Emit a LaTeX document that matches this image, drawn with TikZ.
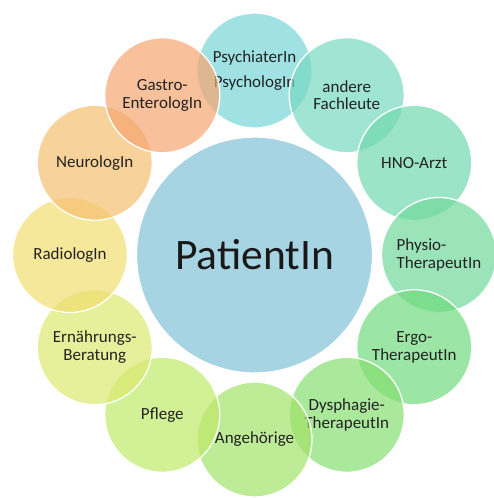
\documentclass[tikz,border=0pt]{standalone}
\usepackage{fontspec}
\setmainfont{Carlito}
\definecolor{ccenter}{RGB}{166,212,226}
\definecolor{cpsy}{RGB}{119,214,216}
\definecolor{cand}{RGB}{119,216,194}
\definecolor{chno}{RGB}{112,216,176}
\definecolor{cphy}{RGB}{112,216,155}
\definecolor{cerg}{RGB}{112,219,126}
\definecolor{cdys}{RGB}{134,222,112}
\definecolor{cang}{RGB}{162,226,105}
\definecolor{cpfl}{RGB}{191,233,105}
\definecolor{cern}{RGB}{219,233,112}
\definecolor{crad}{RGB}{241,222,112}
\definecolor{cneu}{RGB}{245,191,112}
\definecolor{cgas}{RGB}{245,165,112}
\definecolor{textgray}{RGB}{35,35,35}
\tikzset{
  sat/.style={circle, draw=white, line width=1.3pt, fill=#1, fill opacity=0.7,
    text opacity=1, minimum size=115pt, inner sep=0pt, align=center,
    text=textgray, font=\fontsize{17}{17.5}\selectfont},
  hub/.style={circle, draw=white, line width=1.3pt, fill=ccenter,
    minimum size=236pt, inner sep=0pt, text=black!90,
    font=\fontsize{43.5}{48}\selectfont}
}
\begin{document}
\begin{tikzpicture}[x=1pt,y=-1pt]
\useasboundingbox (0,0) rectangle (494,498);
\node[hub] (patient) at (254.5,255) {PatientIn};
\def\R{184.5}
\node[sat=cpsy] (psy) at ({254.5+\R*cos(90)},{255-\R*sin(90)}) {PsychiaterIn\\[7pt]PsychologIn};
\node[sat=cand] (andere) at ({254.5+\R*cos(60)},{255-\R*sin(60)}) {andere\\Fachleute};
\node[sat=chno] (hno) at ({254.5+\R*cos(30)},{255-\R*sin(30)}) {HNO-Arzt};
\node[sat=cphy, align=left] (physio) at ({254.5+\R*cos(0)},{255-\R*sin(0)}) {Physio-\\TherapeutIn};
\node[sat=cerg] (ergo) at ({254.5+\R*cos(-30)},{255-\R*sin(-30)}) {Ergo-\\TherapeutIn};
\node[sat=cdys] (dys) at ({254.5+\R*cos(-60)},{255-\R*sin(-60)}) {Dysphagie-\\TherapeutIn};
\node[sat=cang] (ang) at ({254.5+\R*cos(-90)},{255-\R*sin(-90)}) {Angehörige};
\node[sat=cpfl] (pflege) at ({254.5+\R*cos(-120)},{255-\R*sin(-120)}) {Pflege};
\node[sat=cern] (ern) at ({254.5+\R*cos(-150)},{255-\R*sin(-150)}) {Ernährungs-\\Beratung};
\node[sat=crad] (rad) at ({254.5+\R*cos(180)},{255-\R*sin(180)}) {RadiologIn};
\node[sat=cneu] (neuro) at ({254.5+\R*cos(150)},{255-\R*sin(150)}) {NeurologIn};
\node[sat=cgas] (gastro) at ({254.5+\R*cos(120)},{255-\R*sin(120)}) {Gastro-\\EnterologIn};
\end{tikzpicture}
\end{document}
